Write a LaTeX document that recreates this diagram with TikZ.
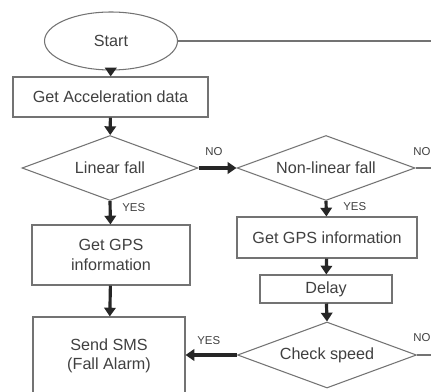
\documentclass[tikz,border=0pt]{standalone}
\usepackage{fontspec}
\setmainfont{Liberation Sans}
\usetikzlibrary{shapes.geometric,arrows.meta}

\begin{document}
\begin{tikzpicture}[x=0.02cm,y=-0.02cm]
\tikzset{boite/.style={draw=black!55, line width=0.6pt, rectangle, inner sep=0pt, align=center, text=black!75, font=\fontsize{9.2}{11}\selectfont},
losange/.style={draw=black!55, line width=0.6pt, diamond, shape aspect=2.7, inner sep=0pt, text=black!75, font=\fontsize{9.2}{11}\selectfont},
fleche/.style={line width=1.8pt, black!85, -{Triangle[length=5pt,width=6.5pt]}},
trait/.style={draw=black!55, line width=0.6pt},
etiq/.style={text=black!75, font=\fontsize{6.5}{7}\selectfont, inner sep=0pt}}
\clip (0, 0) rectangle (431, 391);
\fill[white] (0, 0) rectangle (431, 391);
\node[boite, ellipse, minimum width=2.66cm, minimum height=1.16cm] (debut) at (111, 41) {Start};
\node[boite, minimum width=3.9cm, minimum height=0.8cm] (acc) at (110.5, 97) {Get Acceleration data};
\node[losange, minimum width=3.52cm, minimum height=1.3cm] (lin) at (110, 168) {Linear fall};
\node[losange, minimum width=3.56cm, minimum height=1.3cm] (nonlin) at (326, 168) {Non-linear fall};
\node[boite, minimum width=3.16cm, minimum height=1.2cm] (gps1) at (111, 255) {Get GPS\\information};
\node[boite, minimum width=3.6cm, minimum height=0.82cm] (gps2) at (327, 237.5) {Get GPS information};
\node[boite, minimum width=2.64cm, minimum height=0.56cm] (delai) at (326, 289) {Delay};
\node[losange, minimum width=3.58cm, minimum height=1.32cm] (vitesse) at (327, 355) {Check speed};
\node[boite, minimum width=3.04cm, minimum height=1.56cm] (sms) at (109, 356) {Send SMS\\(Fall Alarm)};
\coordinate (bord1) at (440, 41);
\coordinate (bord2) at (440, 168);
\coordinate (bord3) at (440, 355);
\draw[trait] (debut) -- (bord1);
\draw[trait] (nonlin.east) -- (bord2);
\draw[trait] (vitesse.east) -- (bord3);
\draw[fleche] (debut) -- (acc);
\draw[fleche] (acc) -- (lin);
\draw[fleche] (lin.east) -- (nonlin.west);
\draw[fleche] (lin.south) -- (gps1);
\draw[fleche] (nonlin.south) -- (gps2);
\draw[fleche] (gps2) -- (delai);
\draw[fleche] (delai) -- (vitesse.north);
\draw[fleche] (gps1) -- (sms);
\draw[fleche] (vitesse.west) -- (sms.east |- vitesse.west);
\node[etiq, anchor=west] (no1) at (205, 152) {NO};
\node[etiq, anchor=west] (no2) at (413, 152) {NO};
\node[etiq, anchor=west] (yes1) at (122, 208) {YES};
\node[etiq, anchor=west] (yes2) at (343, 207) {YES};
\node[etiq, anchor=west] (yes3) at (197, 341) {YES};
\node[etiq, anchor=west] (no3) at (413, 338) {NO};
\end{tikzpicture}
\end{document}
